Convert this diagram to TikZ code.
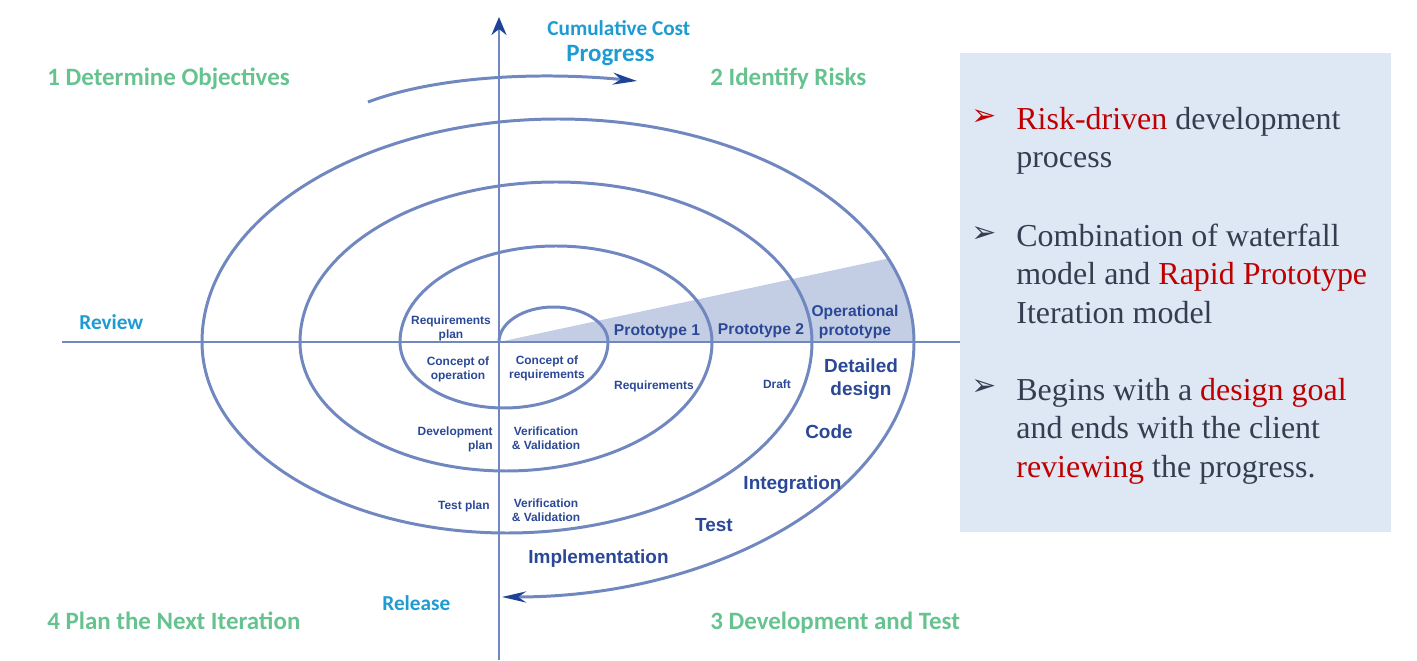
\documentclass[tikz,border=0pt]{standalone}
\usepackage{fontspec}
\setmainfont{Liberation Serif}
\newfontfamily\labfont{Liberation Sans}
\newfontfamily\calfont{Carlito}
\newfontfamily\symfont{DejaVu Sans}
\usepackage{tikz}
\usetikzlibrary{arrows.meta}
\definecolor{ring}{HTML}{7087C0}
\definecolor{tipblue}{HTML}{1E4396}
\definecolor{labblue}{HTML}{2A4896}
\definecolor{quad}{HTML}{66C390}
\definecolor{axislab}{HTML}{1E9BD2}
\definecolor{wedge}{HTML}{C3CEE5}
\definecolor{panel}{HTML}{DDE8F4}
\definecolor{bodytext}{HTML}{333F50}
\definecolor{hilite}{HTML}{C00000}
\newcommand{\hl}[1]{\textcolor{hilite}{#1}}

\begin{document}
\begin{tikzpicture}[x=0.02cm, y=0.02cm,
  spiral/.style={draw=ring, line width=1.7pt},
  labsmall/.style={font=\labfont\bfseries\fontsize{6.8}{8}\selectfont, text=labblue, align=center, inner sep=0pt},
  labmid/.style={font=\labfont\bfseries\fontsize{8.9}{10.8}\selectfont, text=labblue, align=center, inner sep=0pt},
  labbig/.style={font=\labfont\bfseries\fontsize{10.8}{13.4}\selectfont, text=labblue, align=center, inner sep=0pt},
  quadrant/.style={font=\calfont\bfseries\fontsize{14.2}{17}\selectfont, text=quad, anchor=base west, inner sep=0pt},
  axisname/.style={font=\calfont\bfseries\fontsize{12.1}{14}\selectfont, text=axislab, anchor=base west, inner sep=0pt},
  item/.style={font=\fontsize{18.2}{21.9}\selectfont, text=bodytext, align=left, anchor=base west, inner sep=0pt},
  bullet/.style={font=\symfont\bfseries\fontsize{17}{18}\selectfont, text=bodytext, inner sep=0pt}]
  \useasboundingbox (0,0) rectangle (1417,660);

  % shaded prototype wedge
  \fill[wedge] (499,318) -- (888.1,401.5) arc[start angle=22, end angle=0, x radius=356, y radius=223] -- cycle;

  % axes
  \draw[spiral, -{Stealth[length=10.2pt, width=8.5pt, color=tipblue]}] (499,0) -- (499,643);
  \draw[spiral] (62,318) -- (960,318);

  % spiral
  \draw[spiral, -{Stealth[length=13.7pt, width=6.3pt, color=tipblue]}] (499,318)
    arc[start angle=180, end angle=0, x radius=54.5, y radius=35]
    arc[start angle=0, end angle=-180, x radius=104, y radius=66]
    arc[start angle=180, end angle=0, x radius=156, y radius=96]
    arc[start angle=0, end angle=-180, x radius=206, y radius=129]
    arc[start angle=180, end angle=0, x radius=256, y radius=160]
    arc[start angle=0, end angle=-180, x radius=305, y radius=191]
    arc[start angle=180, end angle=0, x radius=356, y radius=223]
    arc[start angle=0, end angle=-90, x radius=412, y radius=255];
  \draw[spiral, -{Stealth[length=13.7pt, width=6.8pt, color=tipblue]}] (368,558) .. controls (440,585) and (545,588) .. (637,579);

  % quadrants and axis names
  \node[quadrant] (objectives) at (47,574) {1 Determine Objectives};
  \node[quadrant] (risks) at (710,574) {2 Identify Risks};
  \node[quadrant] (nextiter) at (47,31) {4 Plan the Next Iteration};
  \node[quadrant] (devtest) at (710,31) {3 Development and Test};
  \node[axisname] (cost) at (547,624) {Cumulative Cost};
  \node[axisname, font=\calfont\bfseries\fontsize{14.2}{17}\selectfont] (progress) at (566,598) {Progress};
  \node[axisname] (review) at (79,330) {Review};
  \node[axisname] (release) at (382,50) {Release};

  % labels along the spiral
  \node[labsmall] (reqplan) at (451,332) {Requirements\\plan};
  \node[labsmall] (conops) at (458,291) {Concept of\\operation};
  \node[labsmall] (conreq) at (547,292) {Concept of\\requirements};
  \node[labsmall] (reqs) at (654,274) {Requirements};
  \node[labsmall] (draft) at (777,276) {Draft};
  \node[labsmall, anchor=east, align=right] (devplan) at (493,221) {Development\\plan};
  \node[labsmall] (vvone) at (546,221.5) {Verification\\\& Validation};
  \node[labsmall, anchor=east] (testplan) at (490,154) {Test plan};
  \node[labsmall] (vvtwo) at (546,150) {Verification\\\& Validation};
  \node[labmid] (protoone) at (657,328) {Prototype 1};
  \node[labmid] (prototwo) at (761,329) {Prototype 2};
  \node[labmid] (opproto) at (855,338) {Operational\\prototype};
  \node[labbig] (detdesign) at (861,281) {Detailed\\design};
  \node[labbig] (code) at (829,228) {Code};
  \node[labbig] (integ) at (792.5,175) {Integration};
  \node[labbig] (test) at (714,135) {Test};
  \node[labbig] (impl) at (598.5,101) {Implementation};

  % summary panel (base = last line)
  \fill[panel] (960,128) rectangle (1391,607);
  \node[bullet, text=hilite] (bulletone) at (984,542) {➢};
  \node[bullet] (bullettwo) at (984,425) {➢};
  \node[bullet] (bulletthree) at (984,272) {➢};
  \node[item] (riskdriven) at (1016,492) {\hl{Risk-driven} development\\process};
  \node[item] (combination) at (1016,337) {Combination of waterfall\\model and \hl{Rapid Prototype}\\Iteration model};
  \node[item] (begins) at (1016,183) {Begins with a \hl{design goal}\\and ends with the client\\\hl{reviewing} the progress.};
\end{tikzpicture}
\end{document}
